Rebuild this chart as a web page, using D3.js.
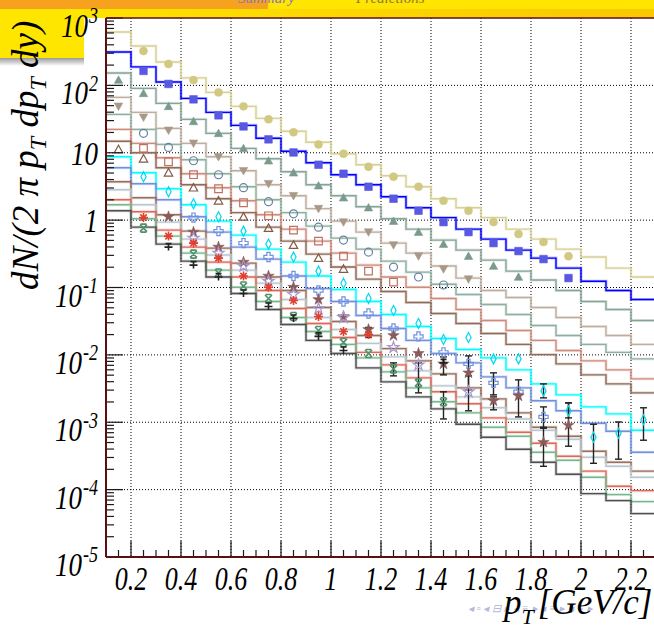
<!DOCTYPE html>
<html>
<head>
<meta charset="utf-8">
<script src="https://cdn.jsdelivr.net/npm/d3@7"></script>
<style>
  body { margin: 0; background: #fff; overflow: hidden; }
  svg { display: block; }
  text { font-family: "Liberation Serif", "Times New Roman", serif; font-style: italic; }
</style>
</head>
<body>
<div id="chart"></div>
<script>
////////////////////////////////////////////////////////////////////////
// Data: dN/(2 pi pT dpT dy) per pT bin (0.1 GeV/c wide bins)

let binEdges = [0.1, 0.2, 0.3, 0.4, 0.5, 0.6, 0.7, 0.8, 0.9, 1.0, 1.1, 1.2,
  1.3, 1.4, 1.5, 1.6, 1.7, 1.8, 1.9, 2.0, 2.1, 2.2, 2.3];
let binCenters = [0.15, 0.25, 0.35, 0.45, 0.55, 0.65, 0.75, 0.85, 0.95, 1.05, 1.15,
  1.25, 1.35, 1.45, 1.55, 1.65, 1.75, 1.85, 1.95, 2.05, 2.15, 2.25];
let xTickValues = [0.2, 0.4, 0.6, 0.8, 1, 1.2, 1.4, 1.6, 1.8, 2, 2.2];
let xTickLabels = ["0.2", "0.4", "0.6", "0.8", "1", "1.2", "1.4", "1.6", "1.8", "2", "2.2"];
let yTickValues = [1e3, 1e2, 1e1, 1, 1e-1, 1e-2, 1e-3, 1e-4, 1e-5];
let yTickBase = ["10", "10", "10", "1", "10", "10", "10", "10", "10"];
let yTickPower = ["3", "2", "", "", "-1", "-2", "-3", "-4", "-5"];

// model histograms (step lines), one value per bin
let histCircle = [620, 384, 222, 129, 78.7, 48.8, 32.4, 20.8, 14.3, 9.66, 6.64, 4.56, 3.13, 2.08, 1.53, 1.09, 0.735, 0.523, 0.371, 0.283, 0.194, 0.143];
let histSquare = [313, 188, 112, 64.1, 39.8, 25.5, 16.4, 10.5, 7.11, 4.72, 3.35, 2.22, 1.53, 1.09, 0.735, 0.523, 0.359, 0.273, 0.194, 0.124, 0.0903, 0.0664];
let histTriUp = [153, 90.3, 54.1, 31.3, 19.4, 11.6, 8.15, 5.23, 3.35, 2.3, 1.58, 1.05, 0.735, 0.505, 0.359, 0.255, 0.175, 0.129, 0.0903, 0.062, 0.0472, 0.0324];
let histTriDown = [66.4, 39.8, 23, 13.8, 8.72, 5.41, 3.35, 2.3, 1.48, 0.966, 0.664, 0.456, 0.324, 0.208, 0.138, 0.0903, 0.0711, 0.0505, 0.0359, 0.0264, 0.0194, 0.0143];
let histOpenCircle = [37.1, 22.2, 13.3, 7.87, 4.88, 3.13, 2.01, 1.29, 0.815, 0.541, 0.371, 0.246, 0.169, 0.112, 0.0787, 0.056, 0.0398, 0.0273, 0.0194, 0.0143, 0.0109, 0.00872];
let histOpenSquare = [22.2, 13.8, 8.43, 4.88, 3.03, 1.94, 1.2, 0.735, 0.488, 0.324, 0.215, 0.143, 0.101, 0.0687, 0.0472, 0.0324, 0.023, 0.0164, 0.0116, 0.00815, 0.00599, 0.00441];
let histOpenTri = [14.8, 10, 5.99, 3.35, 2.08, 1.29, 0.787, 0.488, 0.313, 0.201, 0.133, 0.0872, 0.0599, 0.0411, 0.0292, 0.0208, 0.0143, 0.0101, 0.00735, 0.00505, 0.00371, 0.00273];
let histDiamond = [8.72, 5.05, 2.92, 1.69, 0.966, 0.599, 0.371, 0.238, 0.148, 0.0934, 0.062, 0.0398, 0.0264, 0.0175, 0.012, 0.00903, 0.00599, 0.00371, 0.00255, 0.00169, 0.00133, 0.000761];
let histCross = [5.99, 3.47, 2.01, 1.12, 0.664, 0.398, 0.264, 0.148, 0.0966, 0.062, 0.0384, 0.0246, 0.0164, 0.0105, 0.00761, 0.00472, 0.00324, 0.00208, 0.00148, 0.000966, 0.000735, 0.000359];
let histStar = [3.71, 2.15, 1.2, 0.687, 0.384, 0.23, 0.143, 0.0903, 0.0505, 0.0313, 0.0194, 0.0124, 0.00815, 0.00523, 0.00324, 0.00222, 0.00138, 0.000843, 0.00062, 0.000371, 0.000255, 0.000188];
let histOpenStar = [2.83, 1.69, 0.934, 0.523, 0.303, 0.181, 0.116, 0.0664, 0.0359, 0.0238, 0.0148, 0.00934, 0.00579, 0.00347, 0.00238, 0.00164, 0.00112, 0.000761, 0.00056, 0.000303, 0.000222, 0.000153];
let histAsterisk = [2.01, 1.33, 0.711, 0.398, 0.238, 0.143, 0.0903, 0.0488, 0.0292, 0.0181, 0.0109, 0.00711, 0.00456, 0.00283, 0.00188, 0.00116, 0.000711, 0.000488, 0.000313, 0.000188, 0.000112, 0.0000966];
let histXMark = [1.69, 1.05, 0.579, 0.324, 0.181, 0.101, 0.062, 0.0359, 0.0222, 0.0143, 0.00903, 0.0056, 0.00324, 0.00201, 0.00138, 0.000843, 0.00062, 0.000359, 0.000273, 0.000153, 0.0000843, 0.0000664];
let histPlus = [1.38, 0.787, 0.441, 0.246, 0.143, 0.0815, 0.0472, 0.0283, 0.0164, 0.0105, 0.00641, 0.00398, 0.00238, 0.00158, 0.000934, 0.000599, 0.000398, 0.000255, 0.000169, 0.0000872, 0.0000687, 0.0000441];

// measured points at bin centres (null = no point)
let ptsCircle = [null, 324, 208, 120, 78.7, 48.8, 31.3, 20.1, 13.3, 9.66, 6.2, 4.41, 3.13, 1.94, 1.38, 0.934, 0.62, 0.472, 0.292, null, null, null];
let ptsSquare = [null, 164, 105, 62, 35.9, 24.6, 15.8, 10.1, 6.64, 4.88, 3.13, 2.08, 1.38, 0.934, 0.664, 0.456, 0.347, 0.264, 0.138, null, null, null];
let ptsTriUp = [120, 76.1, 48.8, 29.2, 19.4, 11.6, 7.61, 5.05, 3.24, 2.15, 1.53, 0.966, 0.664, 0.441, 0.292, 0.208, 0.143, null, null, null, null, null];
let ptsTriDown = [48.8, 33.5, 21.5, 13.8, 8.72, 5.41, 3.47, 2.3, 1.48, 0.934, 0.664, 0.426, 0.292, 0.188, 0.133, null, null, null, null, null, null, null];
let ptsOpenCircle = [null, 19.4, 12, 7.61, 4.72, 3.03, 1.88, 1.24, 0.787, 0.505, 0.335, 0.201, 0.143, 0.109, null, null, null, null, null, null, null, null];
let ptsOpenSquare = [null, 11.6, 7.35, 4.72, 2.92, 1.81, 1.16, 0.711, 0.488, 0.292, 0.175, 0.12, null, null, null, null, null, null, null, null, null, null];
let ptsOpenTri = [11.2, 8.15, 5.05, 3.03, 1.94, 1.12, 0.761, 0.426, 0.273, 0.188, null, null, null, null, null, null, null, null, null, null, null, null];
let ptsDiamond = [null, 4.41, 2.64, 1.75, 1.12, 0.687, 0.441, 0.283, 0.175, 0.116, 0.0687, 0.0456, 0.0292, 0.0169, 0.0181, 0.00872, 0.00872, 0.00292, 0.00148, 0.000599, 0.000687, 0.00109];
let ptsCross = [null, null, null, 1.09, 0.687, 0.456, 0.283, 0.148, 0.0903, 0.062, 0.0411, 0.0246, 0.0188, 0.0109, 0.00735, 0.00384, 0.00283, 0.0012, null, null, null, null];
let ptsStar = [null, null, 1.12, 0.664, 0.398, 0.238, 0.148, 0.101, 0.0664, 0.0371, 0.0238, 0.0194, 0.0105, 0.00735, 0.00541, 0.00208, 0.00246, 0.000505, 0.000903, null, null, null];
let ptsOpenStar = [null, null, null, 0.541, 0.324, 0.208, 0.124, 0.0787, 0.0488, 0.0359, null, 0.0129, 0.00711, null, 0.00283, null, null, null, null, null, null, null];
let ptsAsterisk = [null, 1.09, 0.579, 0.456, 0.273, 0.148, 0.101, 0.0641, 0.0371, 0.0222, 0.0201, null, null, null, null, null, null, null, null, null, null, null];
let ptsXMark = [null, 0.761, null, 0.313, 0.164, 0.105, 0.0687, 0.0371, 0.023, 0.0153, 0.0105, 0.0062, 0.00384, 0.00201, null, null, null, null, null, null, null, null];
let ptsPlus = [null, null, 0.398, 0.215, 0.143, 0.0815, 0.0523, 0.0347, 0.0188, 0.0116, null, null, null, 0.00761, null, null, null, null, null, null, null, null];

// error bars [bin index, low, high]
let errDiamond = [[17, 0.0023, 0.00371], [18, 0.00116, 0.00194], [19, 0.000246, 0.000934], [20, 0.000283, 0.00101], [21, 0.000541, 0.00164]];
let errCross = [[15, 0.00238, 0.00541], [17, 0.000815, 0.00169]];
let errStar = [[14, 0.00303, 0.00966], [15, 0.00153, 0.00255], [16, 0.0012, 0.00426], [17, 0.000222, 0.000843], [18, 0.000441, 0.00194]];
let errOpenStar = [[14, 0.00148, 0.00488]];
let errAsterisk = [[10, 0.0181, 0.0255]];
let errXMark = [[11, 0.00488, 0.00761], [12, 0.00273, 0.00761], [13, 0.00112, 0.00283]];
let errPlus = [[13, 0.00505, 0.00934]];

////////////////////////////////////////////////////////////////////////
// Styles per series

let series = [
  { hist: histCircle, pts: ptsCircle, err: [], line: "#d8d094", mark: "#d1c982", shape: "circle", open: false },
  { hist: histSquare, pts: ptsSquare, err: [], line: "#0000ff", mark: "#5858e0", shape: "square", open: false },
  { hist: histTriUp, pts: ptsTriUp, err: [], line: "#86a597", mark: "#7a9a8c", shape: "triUp", open: false },
  { hist: histTriDown, pts: ptsTriDown, err: [], line: "#bfae9f", mark: "#a89888", shape: "triDown", open: false },
  { hist: histOpenCircle, pts: ptsOpenCircle, err: [], line: "#8fb0a0", mark: "#6482a0", shape: "circle", open: true },
  { hist: histOpenSquare, pts: ptsOpenSquare, err: [], line: "#d08a7c", mark: "#c07060", shape: "square", open: true },
  { hist: histOpenTri, pts: ptsOpenTri, err: [], line: "#8f6b58", mark: "#825a46", shape: "triUp", open: true },
  { hist: histDiamond, pts: ptsDiamond, err: errDiamond, line: "#00ffff", mark: "#00d8f0", shape: "diamond", open: true },
  { hist: histCross, pts: ptsCross, err: errCross, line: "#7090e0", mark: "#7090e0", shape: "cross", open: true },
  { hist: histStar, pts: ptsStar, err: errStar, line: "#98705e", mark: "#8a5a5a", shape: "star", open: false },
  { hist: histOpenStar, pts: ptsOpenStar, err: errOpenStar, line: "#b8c8d0", mark: "#a898d0", shape: "star", open: true },
  { hist: histAsterisk, pts: ptsAsterisk, err: errAsterisk, line: "#e06858", mark: "#e04030", shape: "asterisk", open: true },
  { hist: histXMark, pts: ptsXMark, err: errXMark, line: "#78b890", mark: "#50906a", shape: "xmark", open: true },
  { hist: histPlus, pts: ptsPlus, err: errPlus, line: "#505050", mark: "#222222", shape: "plus", open: true }
];

////////////////////////////////////////////////////////////////////////
// Scales and canvas

let W = 654, H = 631;
let plotLeft = 106, plotTop = 18, plotBottom = 557;

let xScale = d3.scaleLinear().domain([0.1, 2.4]).range([plotLeft, plotLeft + 2.3 * 250]);
let yScale = d3.scaleLog().domain([1e-5, 1e3]).range([plotBottom, plotTop]);

let svg = d3.select("#chart").append("svg")
  .attr("width", W)
  .attr("height", H);

// slide decoration behind the picture
let defs = svg.append("defs");
let bandGrad = defs.append("linearGradient").attr("id", "band");
bandGrad.append("stop").attr("offset", "0").attr("stop-color", "#ffe600");
bandGrad.append("stop").attr("offset", "1").attr("stop-color", "#f9c800");
let shadowGrad = defs.append("linearGradient").attr("id", "shadow")
  .attr("x1", 0).attr("y1", 0).attr("x2", 0).attr("y2", 1);
shadowGrad.append("stop").attr("offset", "0").attr("stop-color", "#9a9a9a");
shadowGrad.append("stop").attr("offset", "1").attr("stop-color", "#ffffff");

svg.append("rect").attr("x", 0).attr("y", 0).attr("width", W).attr("height", H).attr("fill", "#fff");
svg.append("rect").attr("x", 0).attr("y", 0).attr("width", 268).attr("height", 9).attr("fill", "#f6a21e");
svg.append("rect").attr("x", 268).attr("y", 0).attr("width", W - 268).attr("height", 9).attr("fill", "#ffe500");
svg.append("rect").attr("x", 0).attr("y", 9).attr("width", W).attr("height", 9).attr("fill", "url(#band)");
svg.append("rect").attr("x", 0).attr("y", 9).attr("width", 84).attr("height", 49).attr("fill", "#ffe600");
svg.append("rect").attr("x", 0).attr("y", 58).attr("width", 84).attr("height", 8).attr("fill", "url(#shadow)");
svg.append("text").attr("x", 238).attr("y", 3).attr("font-size", 15).attr("font-style", "normal")
  .attr("font-family", "DejaVu Sans").attr("fill", "#8878b8").text("Summary");
svg.append("text").attr("x", 356).attr("y", 3).attr("font-size", 15).attr("font-style", "normal")
  .attr("font-family", "DejaVu Sans").attr("fill", "#8a7a40").text("Predictions");

////////////////////////////////////////////////////////////////////////
// Grid

let dotted = "1,2";
svg.append("g").selectAll("line")
  .data(xTickValues)
  .enter().append("line")
  .attr("x1", d => xScale(d)).attr("x2", d => xScale(d))
  .attr("y1", plotTop).attr("y2", plotBottom)
  .attr("stroke", "#000").attr("stroke-width", 1).attr("stroke-dasharray", dotted);

svg.append("g").selectAll("line")
  .data(yTickValues.slice(1, -1))
  .enter().append("line")
  .attr("x1", plotLeft).attr("x2", W)
  .attr("y1", d => yScale(d)).attr("y2", d => yScale(d))
  .attr("stroke", "#000").attr("stroke-width", 1).attr("stroke-dasharray", dotted);

////////////////////////////////////////////////////////////////////////
// Histograms (model)

let stepLine = d3.line()
  .x(d => xScale(d[0]))
  .y(d => yScale(d[1]))
  .curve(d3.curveStepAfter);

series.forEach(s => {
  let pts = binEdges.map((e, i) => [e, s.hist[Math.min(i, s.hist.length - 1)]]);
  svg.append("path").attr("d", stepLine(pts))
    .attr("fill", "none").attr("stroke", s.line).attr("stroke-width", 3).attr("opacity", 0.25);
  svg.append("path").attr("d", stepLine(pts))
    .attr("fill", "none").attr("stroke", s.line).attr("stroke-width", 1.4);
});

////////////////////////////////////////////////////////////////////////
// Error bars and markers

function shapePath(shape) {
  if (shape === "circle") return d3.symbol(d3.symbolCircle, 50)();
  if (shape === "square") return "M-3.8,-3.8H3.8V3.8H-3.8Z";
  if (shape === "triUp") return "M0,-4.2L4.2,3.3L-4.2,3.3Z";
  if (shape === "triDown") return "M0,4.2L4.2,-3.3L-4.2,-3.3Z";
  if (shape === "diamond") return "M0,-5L2.6,0L0,5L-2.6,0Z";
  if (shape === "cross") return "M-1.6,-4.6H1.6V-1.6H4.6V1.6H1.6V4.6H-1.6V1.6H-4.6V-1.6H-1.6Z";
  if (shape === "star") return d3.symbol(d3.symbolStar, 40)();
  if (shape === "asterisk") return "M0,-4.5V4.5M-4.5,0H4.5M-3.2,-3.2L3.2,3.2M-3.2,3.2L3.2,-3.2";
  if (shape === "xmark") return "M-3.5,-3.5L3.5,3.5M-3.5,3.5L3.5,-3.5M-3,-4H3M-3,4H3";
  return "M-4,0H4M0,-3.5V3.5M-3,-3.5H3";
}

let errG = svg.append("g");
series.forEach(s => {
  s.err.forEach(e => {
    let x = xScale(binCenters[e[0]]);
    errG.append("line").attr("x1", x).attr("x2", x)
      .attr("y1", yScale(e[1])).attr("y2", yScale(e[2]))
      .attr("stroke", "#222").attr("stroke-width", 1.4);
    [e[1], e[2]].forEach(v => {
      errG.append("line").attr("x1", x - 3.5).attr("x2", x + 3.5)
        .attr("y1", yScale(v)).attr("y2", yScale(v))
        .attr("stroke", "#222").attr("stroke-width", 1.4);
    });
  });
});

series.forEach(s => {
  let data = s.pts.map((v, i) => ({ x: binCenters[i], v: v })).filter(d => d.v !== null);
  let lineOnly = s.shape === "asterisk" || s.shape === "xmark" || s.shape === "plus";
  svg.append("g").selectAll("path")
    .data(data)
    .enter().append("path")
    .attr("transform", d => "translate(" + xScale(d.x) + "," + yScale(d.v) + ")")
    .attr("d", shapePath(s.shape))
    .attr("fill", s.open ? "none" : s.mark)
    .attr("stroke", s.mark)
    .attr("stroke-width", lineOnly ? 1.6 : (s.open ? 1.2 : 0.6));
});

////////////////////////////////////////////////////////////////////////
// Axes: frame, ticks and labels

let ticksG = svg.append("g").attr("stroke", "#1a1a1a").attr("stroke-width", 1.2);

// x ticks (major every 0.2, minor every 0.05)
for (let k = 3; k <= 46; k++) {
  let v = k * 0.05;
  let major = k % 4 === 0;
  ticksG.append("line")
    .attr("x1", xScale(v)).attr("x2", xScale(v))
    .attr("y1", plotBottom).attr("y2", plotBottom - (major ? 16 : 7));
}

// y ticks (decades and 2..9)
yTickValues.forEach(v => {
  ticksG.append("line").attr("x1", plotLeft).attr("x2", plotLeft + 17)
    .attr("y1", yScale(v)).attr("y2", yScale(v));
  if (v < 1e3) {
    for (let m = 2; m <= 9; m++) {
      ticksG.append("line").attr("x1", plotLeft).attr("x2", plotLeft + 8)
        .attr("y1", yScale(v * m)).attr("y2", yScale(v * m));
    }
  }
});

// frame
svg.append("line").attr("x1", plotLeft).attr("x2", W).attr("y1", plotTop).attr("y2", plotTop)
  .attr("stroke", "#5a1010").attr("stroke-width", 1.6);
svg.append("line").attr("x1", plotLeft).attr("x2", W).attr("y1", plotBottom).attr("y2", plotBottom)
  .attr("stroke", "#5a1010").attr("stroke-width", 2);
svg.append("line").attr("x1", plotLeft).attr("x2", plotLeft).attr("y1", plotTop).attr("y2", plotBottom)
  .attr("stroke", "#5a1010").attr("stroke-width", 2);

// x tick labels (the picture is stretched vertically, so the glyphs are too)
svg.append("g").selectAll("text")
  .data(xTickValues)
  .enter().append("text")
  .attr("transform", d => "translate(" + xScale(d) + ",590) scale(1,1.3)")
  .attr("text-anchor", "middle")
  .attr("font-size", 26)
  .text((d, i) => xTickLabels[i]);

// y tick labels
let yLab = svg.append("g").selectAll("text")
  .data(yTickValues)
  .enter().append("text")
  .attr("transform", (d, i) => "translate(98," + (yScale(d) + (yTickPower[i] === "" ? 12 : 19)) + ") scale(1,1.25)")
  .attr("text-anchor", "end")
  .attr("font-size", 27);
yLab.append("tspan").text((d, i) => yTickBase[i]);
yLab.append("tspan").attr("dy", -11).attr("dx", 1).attr("font-size", 18).text((d, i) => yTickPower[i]);

// axis titles
let yTitle = svg.append("text")
  .attr("transform", "translate(38,290) rotate(-90)")
  .attr("font-size", 37);
yTitle.append("tspan").text("dN/(2 π p");
yTitle.append("tspan").attr("dy", 8).attr("font-size", 24).text("T");
yTitle.append("tspan").attr("dy", -8).text(" dp");
yTitle.append("tspan").attr("dy", 8).attr("font-size", 24).text("T");
yTitle.append("tspan").attr("dy", -8).text(" dy)");

// navigation symbols of the slide
svg.append("text").attr("x", 468).attr("y", 612).attr("font-size", 11).attr("font-style", "normal")
  .attr("font-family", "DejaVu Sans").attr("fill", "#b4b8dc")
  .text("◂ ▫ ◂ ⊟ ▸ ◂ ≡ ▸ ◂ ≡ ▸ ◂ ≡ ▸");

let xTitle = svg.append("text").attr("x", 504).attr("y", 614).attr("font-size", 35);
xTitle.append("tspan").text("p");
xTitle.append("tspan").attr("dy", 10).attr("font-size", 22).text("T");
xTitle.append("tspan").attr("dy", -10).attr("dx", 4).text("[GeV/c]");
</script>
</body>
</html>
